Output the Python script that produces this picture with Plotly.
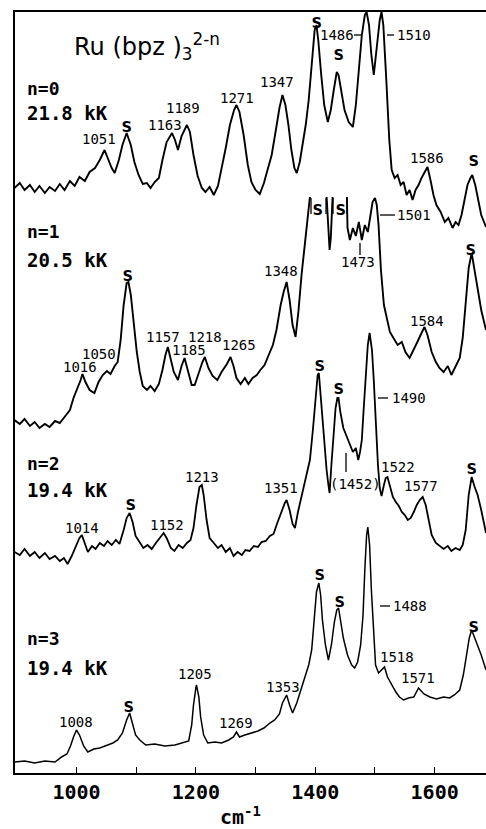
import plotly.graph_objects as go

# ---------------- data ----------------
# wavenumbers (cm-1) and trace heights (arbitrary units, stacked offsets included)
x_n0 = [896, 905, 913, 922, 930, 938, 947, 955, 964, 972, 980, 989, 997, 1005, 1014, 1022, 1031, 1039,
        1047, 1052, 1059, 1064, 1071, 1077, 1084, 1091, 1097, 1104, 1111, 1118, 1124, 1131, 1138, 1144,
        1151, 1160, 1165, 1170, 1176, 1185, 1190, 1196, 1203, 1210, 1216, 1223, 1230, 1237, 1243, 1250,
        1257, 1264, 1268, 1273, 1280, 1287, 1293, 1300, 1307, 1314, 1320, 1327, 1334, 1340, 1345, 1350,
        1355, 1360, 1365, 1369, 1374, 1379, 1384, 1389, 1394, 1399, 1402, 1405, 1410, 1415, 1421, 1426,
        1431, 1436, 1439, 1444, 1449, 1456, 1463, 1468, 1473, 1478, 1483, 1486, 1490, 1494, 1498, 1503,
        1508, 1511, 1514, 1519, 1524, 1528, 1533, 1538, 1543, 1548, 1553, 1558, 1563, 1568, 1573, 1578,
        1583, 1588, 1593, 1598, 1603, 1610, 1617, 1623, 1630, 1635, 1640, 1645, 1650, 1655, 1660, 1663,
        1668, 1673, 1678, 1686]
y_n0 = [585, 590, 583, 588, 581, 587, 580, 586, 582, 589, 583, 592, 587, 596, 592, 601, 605, 613,
        623, 615, 605, 600, 613, 628, 640, 628, 611, 598, 589, 590, 585, 591, 595, 613,
        631, 640, 633, 623, 637, 648, 641, 618, 597, 585, 581, 586, 578, 587, 603, 625,
        648, 663, 668, 661, 638, 608, 591, 583, 579, 590, 603, 618, 643, 665, 678, 668,
        648, 623, 605, 600, 611, 628, 648, 673, 708, 743, 748, 733, 698, 668, 651, 663,
        683, 701, 698, 678, 663, 651, 646, 668, 703, 738, 758, 761, 748, 718, 698, 723,
        753, 761, 748, 693, 633, 603, 595, 598, 588, 591, 578, 583, 573, 583, 588, 595,
        601, 606, 593, 578, 568, 561, 551, 555, 545, 551, 548, 558, 573, 588, 595, 598,
        588, 573, 558, 546]

x_n1 = [896, 905, 913, 922, 930, 938, 947, 955, 964, 972, 980, 989, 995, 1002, 1007, 1010, 1015, 1022,
        1030, 1037, 1044, 1051, 1057, 1064, 1069, 1074, 1079, 1084, 1087, 1091, 1096, 1101, 1106, 1111,
        1118, 1124, 1131, 1138, 1144, 1149, 1153, 1158, 1163, 1170, 1176, 1181, 1186, 1193, 1198, 1205,
        1211, 1215, 1221, 1228, 1236, 1243, 1252, 1258, 1263, 1268, 1275, 1282, 1288, 1295, 1302, 1308,
        1315, 1322, 1329, 1335, 1342, 1347, 1352, 1357, 1362, 1367, 1372, 1377, 1382, 1387, 1391,
        None,
        1419, 1422, 1424, 1426, 1429,
        None,
        1453, 1454, 1458, 1463, 1468, 1473, 1478, 1483, 1488, 1493, 1496, 1500, 1503, 1506, 1510, 1515,
        1520, 1525, 1531, 1538, 1545, 1551, 1558, 1565, 1571, 1578, 1583, 1588, 1595, 1602, 1608, 1615,
        1622, 1628, 1635, 1642, 1647, 1652, 1657, 1662, 1667, 1672, 1678, 1686]
y_n1 = [353, 349, 354, 347, 351, 345, 349, 346, 352, 350, 356, 363, 375, 385, 393, 399, 391, 383,
        380, 391, 398, 402, 399, 407, 411, 433, 468, 490, 491, 478, 448, 421, 401, 387,
        383, 387, 382, 389, 403, 418, 426, 413, 401, 393, 407, 415, 403, 388, 388, 401,
        411, 416, 405, 397, 393, 401, 409, 416, 407, 395, 389, 395, 389, 395, 398, 403,
        408, 418, 428, 443, 468, 481, 491, 473, 448, 436, 463, 498, 528, 555, 576,
        None,
        576, 538, 523, 535, 576,
        None,
        576, 545, 533, 545, 537, 551, 533, 548, 541, 561, 571, 575, 568, 548, 503, 468,
        453, 441, 435, 428, 431, 421, 415, 423, 431, 440, 446, 438, 421, 411, 405, 401,
        407, 398, 407, 415, 435, 473, 505, 520, 503, 483, 463, 443]

x_n2 = [896, 905, 913, 922, 930, 938, 947, 955, 964, 972, 979, 985, 992, 999, 1005, 1009, 1014, 1019,
        1026, 1032, 1039, 1046, 1052, 1059, 1066, 1072, 1079, 1084, 1089, 1094, 1099, 1106, 1112, 1119,
        1126, 1133, 1139, 1146, 1151, 1158, 1164, 1171, 1178, 1185, 1191, 1196, 1201, 1206, 1210, 1213,
        1218, 1223, 1230, 1237, 1243, 1250, 1257, 1263, 1270, 1277, 1283, 1290, 1297, 1304, 1310, 1317,
        1324, 1330, 1337, 1344, 1349, 1352, 1357, 1362, 1366, 1371, 1377, 1384, 1391, 1396, 1401, 1404,
        1406, 1409, 1412, 1416, 1419, 1422, 1424, 1427, 1431, 1434, 1437, 1439, 1442, 1447, 1453, 1458,
        1463, 1468, 1472, 1475, 1478, 1481, 1485, 1488, 1491, 1495, 1498, 1501, 1505, 1508, 1511, 1515,
        1518, 1521, 1525, 1530, 1535, 1540, 1545, 1550, 1555, 1560, 1565, 1570, 1575, 1580, 1585, 1590,
        1595, 1602, 1608, 1615, 1622, 1628, 1635, 1642, 1647, 1652, 1657, 1662, 1667, 1672, 1678, 1686]
y_n2 = [221, 218, 224, 217, 221, 215, 220, 214, 217, 212, 215, 209, 217, 227, 235, 238, 230, 221,
        227, 224, 230, 227, 232, 228, 233, 229, 243, 255, 260, 251, 237, 230, 225, 228,
        224, 230, 235, 240, 235, 225, 222, 228, 225, 230, 233, 245, 268, 286, 288, 278,
        253, 235, 230, 225, 228, 221, 225, 217, 221, 218, 223, 222, 227, 226, 231, 232,
        237, 239, 251, 263, 270, 273, 263, 249, 245, 261, 276, 293, 313, 343, 378, 398,
        400, 378, 348, 326, 303, 288, 280, 308, 343, 365, 375, 375, 361, 345, 336, 328,
        321, 325, 313, 321, 333, 363, 398, 428, 440, 423, 393, 353, 308, 285, 277, 288,
        295, 296, 288, 276, 271, 267, 261, 258, 253, 255, 261, 268, 273, 276, 268, 251,
        238, 230, 227, 224, 227, 222, 225, 223, 228, 243, 278, 296, 286, 278, 263, 240]

x_n3 = [896, 913, 930, 947, 964, 975, 984, 990, 995, 1000, 1005, 1012, 1019, 1029, 1039, 1049, 1061,
        1069, 1077, 1084, 1089, 1094, 1099, 1106, 1116, 1131, 1148, 1165, 1178, 1188, 1193, 1196, 1200,
        1201, 1205, 1208, 1213, 1220, 1232, 1243, 1255, 1263, 1268, 1273, 1282, 1293, 1304, 1314, 1324,
        1332, 1340, 1345, 1352, 1357, 1362, 1369, 1375, 1382, 1389, 1394, 1399, 1402, 1406, 1409, 1412,
        1417, 1422, 1427, 1432, 1436, 1439, 1442, 1447, 1454, 1461, 1466, 1471, 1476, 1480, 1483, 1486,
        1488, 1491, 1494, 1498, 1501, 1506, 1511, 1516, 1521, 1528, 1535, 1541, 1548, 1556, 1565, 1573,
        1582, 1592, 1603, 1615, 1625, 1633, 1642, 1648, 1653, 1658, 1662, 1667, 1672, 1678, 1686]
y_n3 = [11, 12, 10, 12, 11, 16, 19, 27, 36, 43, 38, 27, 21, 24, 25, 27, 30,
        33, 40, 53, 60, 49, 38, 33, 28, 29, 27, 28, 30, 32, 48, 68, 85,
        88, 76, 56, 38, 30, 31, 30, 33, 36, 41, 36, 38, 40, 42, 45, 50,
        53, 59, 70, 78, 68, 60, 70, 81, 93, 108, 123, 158, 181, 190, 178, 153,
        128, 113, 128, 151, 163, 165, 153, 135, 118, 108, 105, 111, 128, 158, 203, 238,
        246, 228, 183, 133, 108, 100, 103, 106, 96, 88, 81, 76, 73, 75, 76, 85,
        79, 76, 74, 76, 75, 78, 83, 98, 118, 135, 143, 135, 126, 118, 103]

tick_values = [1000, 1200, 1400, 1600]
tick_labels = ["1000", "1200", "1400", "1600"]
minor_tick_values = [1100, 1300, 1500]

series = [(x_n0, y_n0, "n=0", 1.9), (x_n1, y_n1, "n=1", 1.9),
          (x_n2, y_n2, "n=2", 1.8), (x_n3, y_n3, "n=3", 1.5)]

# ---------------- figure ----------------
W, H = 486, 829
ML, MR, MT, MB = 15, 0, 12, 56
PW, PH = W - ML - MR, H - MT - MB

fig = go.Figure()
for xs, ys, name, lw in series:
    fig.add_trace(go.Scatter(x=xs, y=ys, mode="lines", name=name, connectgaps=False,
                             line=dict(color="black", width=lw), showlegend=False,
                             hoverinfo="skip"))


def P(px, py):
    return (px - ML) / PW, (H - MB - py) / PH


MONO = "DejaVu Sans Mono"


def label(text, px, py, size=14, bold=False, family=MONO, xanchor="center"):
    ax, ay = P(px, py)
    fig.add_annotation(x=ax, y=ay, xref="paper", yref="paper", text=text, showarrow=False,
                       xanchor=xanchor, yanchor="middle",
                       font=dict(family=family, size=size, color="black",
                                 weight="bold" if bold else "normal"))


def seg(px0, py0, px1, py1, w=1.3):
    x0, y0 = P(px0, py0)
    x1, y1 = P(px1, py1)
    fig.add_shape(type="line", xref="paper", yref="paper", x0=x0, y0=y0, x1=x1, y1=y1,
                  line=dict(color="black", width=w))


# title
label("Ru (bpz )<sub>3</sub><sup>2-n</sup>", 72, 47, size=24, family="DejaVu Sans", xanchor="left")

# series headers
for txt, py in [("n=0", 88), ("n=1", 232), ("n=2", 463), ("n=3", 638)]:
    label(txt, 25, py, size=18, bold=True, xanchor="left")
for txt, py in [("21.8 kK", 113), ("20.5 kK", 260), ("19.4 kK", 490), ("19.4 kK", 668)]:
    label(txt, 25, py, size=19, bold=True, xanchor="left")

# peak labels
peak_labels = [
    ("1051", 99, 139), ("1163", 165, 125), ("1189", 183, 108), ("1271", 237, 98),
    ("1347", 277, 82), ("1486", 337, 35), ("1510", 414, 35), ("1586", 427, 158),
    ("1016", 80, 367), ("1050", 99, 354), ("1157", 163, 337), ("1185", 189, 350),
    ("1218", 205, 337), ("1265", 239, 345), ("1348", 281, 271), ("1473", 358, 262),
    ("1501", 414, 215), ("1584", 427, 321),
    ("1014", 82, 528), ("1152", 167, 525), ("1213", 202, 477), ("1351", 281, 488),
    ("1490", 409, 398), ("(1452)", 355, 484), ("1522", 398, 467), ("1577", 421, 486),
    ("1008", 76, 722), ("1205", 195, 674), ("1269", 236, 723), ("1353", 283, 687),
    ("1488", 410, 606), ("1518", 397, 657), ("1571", 418, 678),
]
for txt, px, py in peak_labels:
    label(txt, px, py, size=14)

s_labels = [(126, 125), (316, 21), (338, 53), (473, 159),
            (127, 274), (317, 208), (340, 208), (470, 248),
            (130, 503), (319, 364), (338, 387), (471, 467),
            (128, 705), (319, 573), (339, 600), (473, 625)]
for px, py in s_labels:
    label("s", px, py, size=19, bold=True)

# connector dashes / ticks
seg(354, 35, 361, 35)
seg(387, 35, 394, 35)
seg(380, 215, 395, 215)
seg(378, 398, 388, 398)
seg(380, 606, 390, 606)
seg(360, 243, 360, 255)
seg(346, 453, 346, 472)
seg(311, 198, 311, 214)
seg(326, 198, 326, 214)
seg(333, 198, 333, 214)
seg(347, 198, 347, 214)

# axis title
label("cm<sup>-1</sup>", 218, 816, size=20, bold=True, xanchor="left")

fig.update_layout(
    width=W, height=H, margin=dict(l=ML, r=MR, t=MT, b=MB, pad=0),
    paper_bgcolor="white", plot_bgcolor="white",
    xaxis=dict(range=[897, 1686], tickvals=tick_values, ticktext=tick_labels,
               ticks="inside", ticklen=6, tickwidth=1.3, tickcolor="black",
               minor=dict(tickvals=minor_tick_values, ticks="inside", ticklen=6,
                          tickwidth=1.3, tickcolor="black", showgrid=False),
               showline=True, linecolor="black", linewidth=1.6, mirror=True,
               showgrid=False, zeroline=False,
               tickfont=dict(family=MONO, size=20, color="black", weight="bold"), tickangle=0),
    yaxis=dict(range=[0, 761], showticklabels=False, ticks="", showline=True,
               linecolor="black", linewidth=1.6, showgrid=False, zeroline=False),
)

fig.write_html("out.html")
